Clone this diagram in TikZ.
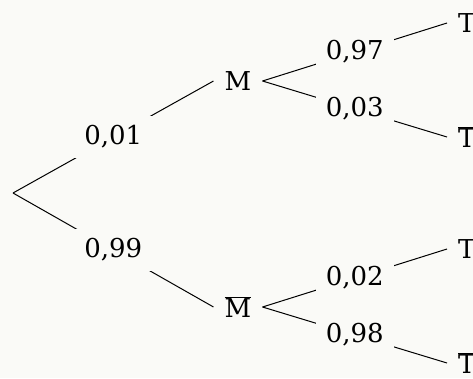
\documentclass[tikz,border=0pt]{standalone}
\usepackage{fontspec}
\setmainfont{DejaVu Serif}
\usepackage{tikz}
\definecolor{paper}{RGB}{250,250,247}
\newcommand{\evfont}{\fontsize{26}{31}\selectfont}
\newcommand{\nonev}[1]{$\overline{\hbox{#1}}$}
\tikzset{
  event/.style={inner sep=11pt, font=\evfont},
  leaf/.style={event, anchor=west},
  prob/.style={fill=paper, inner sep=10pt, font=\evfont},
  branch/.style={line width=1pt},
}

\begin{document}
\begin{tikzpicture}[x=1pt,y=-1pt]
  \fill[paper] (0,0) rectangle (473,378);
  \useasboundingbox (0,0) rectangle (473,378);
  % First draw
  \coordinate (root) at (13,193);
  \node[event] (M)  at (238,81)  {M};
  \node[event] (Mb) at (238,307) {\nonev{M}};

  \draw[branch] (root) -- node[prob] {0,01} (M.west);
  \draw[branch] (root) -- node[prob] {0,99} (Mb.west);

  % Second draw, after M
  \node[leaf] (T1)  at (447,23)  {T};
  \node[leaf] (Tb1) at (447,137) {\nonev{T}};

  \draw[branch] (M.east) -- node[prob] {0,97} (T1.west);
  \draw[branch] (M.east) -- node[prob] {0,03} (Tb1.west);

  % Second draw, after M bar
  \node[leaf] (T2)  at (447,249) {T};
  \node[leaf] (Tb2) at (447,363) {\nonev{T}};

  \draw[branch] (Mb.east) -- node[prob] {0,02} (T2.west);
  \draw[branch] (Mb.east) -- node[prob] {0,98} (Tb2.west);
\end{tikzpicture}
\end{document}
